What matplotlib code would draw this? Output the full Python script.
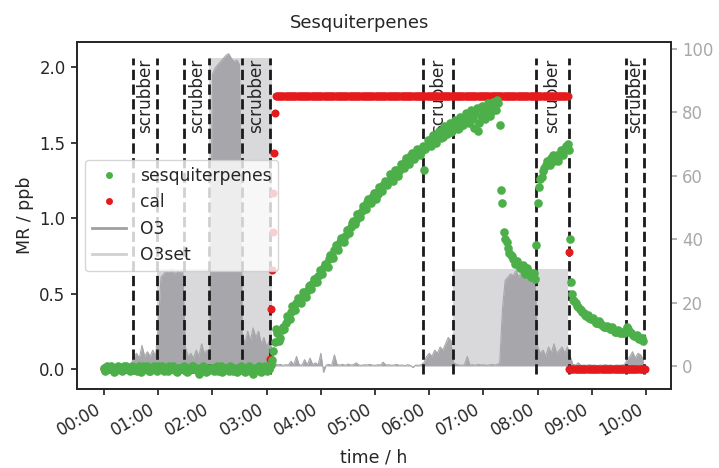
import numpy as np
import matplotlib
matplotlib.use("Agg")
import matplotlib.pyplot as plt
from matplotlib.lines import Line2D

# --- data (time in hours since start) ---
step = 0.05  # sampling interval of the PTR data (h)

# sesquiterpenes, regular part 0.00 ... 7.25 h
sesq_regular = [
    0.01, 0.02, 0.00, 0.01, -0.01, 0.02, 0.01, 0.00, 0.02, 0.01,
    0.00, 0.01, -0.01, 0.02, 0.00, 0.01, 0.02, -0.01, 0.01, 0.00,
    0.02, 0.00, -0.01, 0.01, 0.02, 0.00, 0.01, -0.02, 0.01, 0.00,
    0.01, -0.01, 0.00, 0.02, 0.01, -0.03, 0.00, 0.01, -0.01, 0.00,
    0.01, 0.00, -0.01, 0.02, 0.00, 0.01, -0.01, 0.00, 0.01, -0.02,
    0.00, 0.01, -0.02, 0.00, 0.01, -0.03, 0.00, 0.02, -0.02, 0.00,
    -0.01, 0.00,
    0.06, 0.18, 0.24, 0.21, 0.28, 0.31, 0.33, 0.38, 0.40, 0.44,
    0.45, 0.48, 0.50, 0.52, 0.56, 0.57, 0.60, 0.62, 0.64, 0.68,
    0.69, 0.73, 0.75, 0.79, 0.80, 0.84, 0.86, 0.88, 0.92, 0.94,
    0.98, 0.99, 1.03, 1.05, 1.07, 1.11, 1.12, 1.14, 1.17, 1.16,
    1.20, 1.22, 1.24, 1.25, 1.28, 1.29, 1.32, 1.31, 1.35, 1.37,
    1.38, 1.41, 1.40, 1.43, 1.45, 1.44, 1.32, 1.48, 1.50, 1.53,
    1.51, 1.55, 1.57, 1.54, 1.58, 1.60, 1.57, 1.62, 1.63, 1.60,
    1.65, 1.67, 1.64, 1.69, 1.66, 1.70, 1.58, 1.68, 1.72, 1.69,
    1.73, 1.71, 1.75, 1.78,
]
# in-between samples, 0.025 ... 3.025 h
sesq_half_a = [
    -0.01, 0.01, 0.02, -0.02, 0.00, 0.01, -0.01, 0.02, 0.00, -0.01,
    0.02, 0.00, 0.01, -0.02, 0.02, 0.00, -0.01, 0.01, 0.02, -0.01,
    0.00, 0.02, 0.01, -0.01, 0.00, 0.02, -0.01, 0.01, 0.00, 0.02,
    -0.02, 0.01, 0.02, 0.00, -0.01, 0.01, 0.02, -0.02, 0.01, 0.01,
    -0.01, 0.02, 0.01, -0.02, 0.01, 0.00, 0.02, -0.01, 0.00, 0.01,
    0.02, -0.01, 0.01, 0.02, -0.02, 0.01, 0.00, -0.01, 0.01, 0.02,
    0.01,
]
# in-between samples, 3.075 ... 7.275 h
sesq_half_b = [
    0.03, 0.12, 0.27, 0.19, 0.26, 0.27, 0.35, 0.33, 0.42, 0.39,
    0.47, 0.44, 0.51, 0.48, 0.55, 0.53, 0.60, 0.58, 0.66, 0.63,
    0.70, 0.68, 0.76, 0.74, 0.82, 0.79, 0.87, 0.84, 0.92, 0.90,
    0.97, 0.96, 1.03, 1.01, 1.08, 1.06, 1.13, 1.10, 1.17, 1.13,
    1.21, 1.18, 1.25, 1.22, 1.29, 1.25, 1.32, 1.28, 1.36, 1.33,
    1.40, 1.36, 1.43, 1.39, 1.46, 1.42, 1.48, 1.46, 1.52, 1.48,
    1.55, 1.50, 1.58, 1.53, 1.61, 1.56, 1.63, 1.58, 1.65, 1.59,
    1.67, 1.62, 1.70, 1.63, 1.72, 1.60, 1.73, 1.63, 1.74, 1.66,
    1.76, 1.68, 1.77, 1.72, 1.76,
]
# sesquiterpenes after the ozone breakthrough (irregular times)
sesq_late_time = [
    7.30, 7.33, 7.35, 7.37, 7.40, 7.45, 7.50, 7.55, 7.60, 7.65,
    7.70, 7.75, 7.80, 7.85, 7.90, 7.95, 7.97, 8.00, 8.03, 8.05,
    8.10, 8.15, 8.20, 8.25, 8.30, 8.35, 8.40, 8.45, 8.50, 8.55,
    8.57, 8.59, 8.61, 8.63, 8.65, 8.70, 8.75, 8.80, 8.85, 8.90,
    8.95, 9.00, 9.05, 9.10, 9.15, 9.20, 9.25, 9.30, 9.35, 9.40,
    9.45, 9.50, 9.55, 9.60, 9.65, 9.70, 9.75, 9.80, 9.85, 9.90, 9.95,
    7.425, 7.475, 7.525, 7.575, 7.625, 7.675, 7.725, 7.775, 7.825, 7.875, 7.925,
    8.075, 8.125, 8.175, 8.225, 8.275, 8.325, 8.375, 8.425, 8.475, 8.525,
    8.675, 8.725, 8.775, 8.825, 8.875, 8.925, 8.975, 9.025, 9.075, 9.125,
    9.175, 9.225, 9.275, 9.325, 9.375, 9.425, 9.475, 9.525, 9.575, 9.625,
    9.675, 9.725, 9.775, 9.825, 9.875, 9.925,
]
sesq_late = [
    1.62, 1.19, 1.10, 0.91, 0.86, 0.80, 0.76, 0.73, 0.71, 0.69,
    0.68, 0.66, 0.67, 0.64, 0.63, 0.60, 0.82, 1.10, 1.21, 1.26,
    1.31, 1.35, 1.37, 1.40, 1.38, 1.42, 1.41, 1.44, 1.46, 1.49,
    1.45, 0.86, 0.58, 0.50, 0.46, 0.44, 0.41, 0.39, 0.37, 0.35,
    0.34, 0.33, 0.32, 0.31, 0.30, 0.29, 0.28, 0.28, 0.27, 0.26,
    0.25, 0.25, 0.24, 0.24, 0.28, 0.25, 0.23, 0.22, 0.21, 0.21, 0.19,
    0.84, 0.77, 0.75, 0.70, 0.72, 0.67, 0.69, 0.63, 0.65, 0.61, 0.64,
    1.27, 1.33, 1.38, 1.35, 1.42, 1.40, 1.38, 1.45, 1.42, 1.48,
    0.45, 0.42, 0.40, 0.38, 0.36, 0.36, 0.33, 0.34, 0.31, 0.32,
    0.30, 0.28, 0.29, 0.27, 0.28, 0.25, 0.26, 0.24, 0.25, 0.26,
    0.27, 0.24, 0.22, 0.23, 0.20, 0.21,
]

# calibration signal
cal_step = 0.02
cal_ramp_time = [3.07, 3.08, 3.10, 3.11, 3.12, 3.14, 3.16]
cal_ramp = [0.07, 0.40, 0.66, 0.91, 1.17, 1.43, 1.70]
cal_high = 1.81
cal_drop_time = [8.575]
cal_drop = [0.78]

# ozone (right axis), every 0.05 h from 0.00 to 9.95 h
o3 = [
    0.5, 0.2, 0.4, 0.1, 0.3, 0.5, 0.2, 0.3, 0.1, 0.4,
    0.3, 3, 4, 2.5, 6.5, 3, 4.5, 3, 5, 3,
    12, 28, 29, 30, 29.5, 30.5, 29, 30, 29.5, 30,
    6, 3, 4, 2.5, 5, 3, 7, 4, 5, 3,
    92, 94, 95, 96, 97, 98, 98.5, 97, 96, 96.5,
    95, 10, 7, 11, 8, 12, 9, 11, 7, 9,
    6, 8, 5, 1, 0.3, 0.5, 0.2, 0.4, 0.3, 1.5,
    0.3, 3, 0.4, 0.2, 2, 0.3, 2.5, 0.4, 1, 0.3,
    4, -2, 0.3, 0.5, 0.2, 3.5, 0.4, 0.3, 0.5, 0.2,
    0.6, 0.3, 0.4, 1, 0.3, 0.2, 0.4, 0.3, 0.5, 0.3,
    0.2, 0.4, 0.3, 1.2, 0.3, 0.4, 0.2, 0.3, 0.5, 0.2,
    0.3, 0.1, 0.4, 0.2, -0.5, 0.3, 0.2, 0.4, 1, 3,
    4, 3, 5, 4, 6, 5, 7, 9, 8, 1,
    0.5, 0.3, 0.2, 0.4, 3, 0.3, 0.4, 0.2, 0.5, 0.3,
    0.4, 0.2, 0.3, 0.5, 0.3, 0.4, 1, 18, 27, 28,
    29, 28.5, 30, 28, 29.5, 28.5, 29, 28, 29, 28.5,
    6, 4, 5, 3, 6, 4, 7, 4, 5, 6,
    4, 6, 3, 0.5, 0.3, 1, 0.2, 0.3, 0.2, 0.4,
    0.2, 0.3, 0.1, 0.3, 0.2, 0.4, 0.2, 0.3, 0.1, 0.3,
    0.2, 0.3, 0.4, 2, 3, 4.5, 2.5, 4, 3.5, 2,
]
# ozone set point (steps)
o3set_time = [0.0, 0.98, 1.93, 3.10, 6.43, 8.56, 9.95]
o3set = [0, 30.5, 97, 0, 30.5, 0, 0]

# scrubber periods (start, end) in h
scrubber = [(0.535, 0.98), (1.48, 1.94), (2.55, 3.06),
            (5.89, 6.43), (7.97, 8.57), (9.62, 9.97)]

hour_labels = ["%02d:00" % h for h in range(11)]

# --- assemble time axes ---
sesq_time = np.concatenate([
    np.arange(len(sesq_regular)) * step,
    0.025 + np.arange(len(sesq_half_a)) * step,
    3.075 + np.arange(len(sesq_half_b)) * step,
    sesq_late_time,
])
sesq_mr = np.concatenate([sesq_regular, sesq_half_a, sesq_half_b, sesq_late])

t_cal_low1 = np.arange(0, 3.06, cal_step)
t_cal_high = np.arange(3.17, 8.565, cal_step)
t_cal_low2 = np.arange(8.58, 9.99, cal_step)
cal_time = np.concatenate([t_cal_low1, cal_ramp_time, t_cal_high, cal_drop_time, t_cal_low2])
cal_mr = np.concatenate([[0.0] * len(t_cal_low1), cal_ramp, [cal_high] * len(t_cal_high),
                         cal_drop, [0.0] * len(t_cal_low2)])

o3_time = np.arange(len(o3)) * step

green = "#4daf4a"
red = "#e41a1c"
o3_col = "#a7a7ab"
o3set_col = "#d9d9db"
dark = "#262626"

fig = plt.figure(figsize=(7.19, 4.68), dpi=100)
ax = fig.add_axes([0.1067, 0.1682, 0.8266, 0.7421])
ax2 = ax.twinx()

# ozone on the right axis (drawn behind)
ax2.fill_between(o3set_time, 0, o3set, step="post", color=o3set_col, lw=0)
ax2.fill_between(o3_time, 0, o3, color=o3_col, lw=0)
ax2.plot(o3_time, o3, color=o3_col, lw=0.8)
ax2.set_ylim(-7.35, 102.2)
ax2.set_yticks(range(0, 101, 20))

ax.set_zorder(ax2.get_zorder() + 1)
ax.patch.set_visible(False)

# scrubber markers
for t0, t1 in scrubber:
    ax.vlines([t0, t1], -0.03, 2.06, colors="#1a1a1a", linestyles="--", lw=2)
    ax.text((t0 + t1) / 2, 2.06, "scrubber", rotation=90, ha="center", va="top",
            fontsize=12.2, color=dark)

ax.plot(cal_time, cal_mr, "o", color=red, ms=5.8, mew=0, zorder=3)
ax.plot(sesq_time, sesq_mr, "o", color=green, ms=6.2, mew=0, zorder=4)

ax.set_xlim(-0.504, 10.46)
ax.set_ylim(-0.132, 2.167)
ax.set_xticks(range(11))
ax.set_xticklabels(hour_labels, rotation=30, ha="right")
ax.set_yticks([0.0, 0.5, 1.0, 1.5, 2.0])

fig.text(0.5, 0.940, "Sesquiterpenes", ha="center", va="baseline", fontsize=12.9, color=dark)
ax.set_xlabel("time / h", fontsize=12.5, color=dark, labelpad=6)
ax.set_ylabel("MR / ppb", fontsize=12.5, color=dark)

ax.tick_params(length=4.5, width=1.25, colors=dark, labelsize=11.9)
ax2.tick_params(axis="y", length=4.5, width=1.25, colors="#a8a8a8", labelsize=11.9)
for a in (ax, ax2):
    for s in a.spines.values():
        s.set_linewidth(1.25)
        s.set_color(dark)

handles = [
    Line2D([], [], ls="none", marker="o", color=green, ms=5, mew=0, label="sesquiterpenes"),
    Line2D([], [], ls="none", marker="o", color=red, ms=5, mew=0, label="cal"),
    Line2D([], [], color="#a0a0a4", lw=2, label="O3"),
    Line2D([], [], color="#d0d0d2", lw=2, label="O3set"),
]
leg = ax.legend(handles=handles, loc="center left", fontsize=12.3, framealpha=0.8)
for txt in leg.get_texts():
    txt.set_color(dark)

fig.savefig("out.png", dpi=100)
